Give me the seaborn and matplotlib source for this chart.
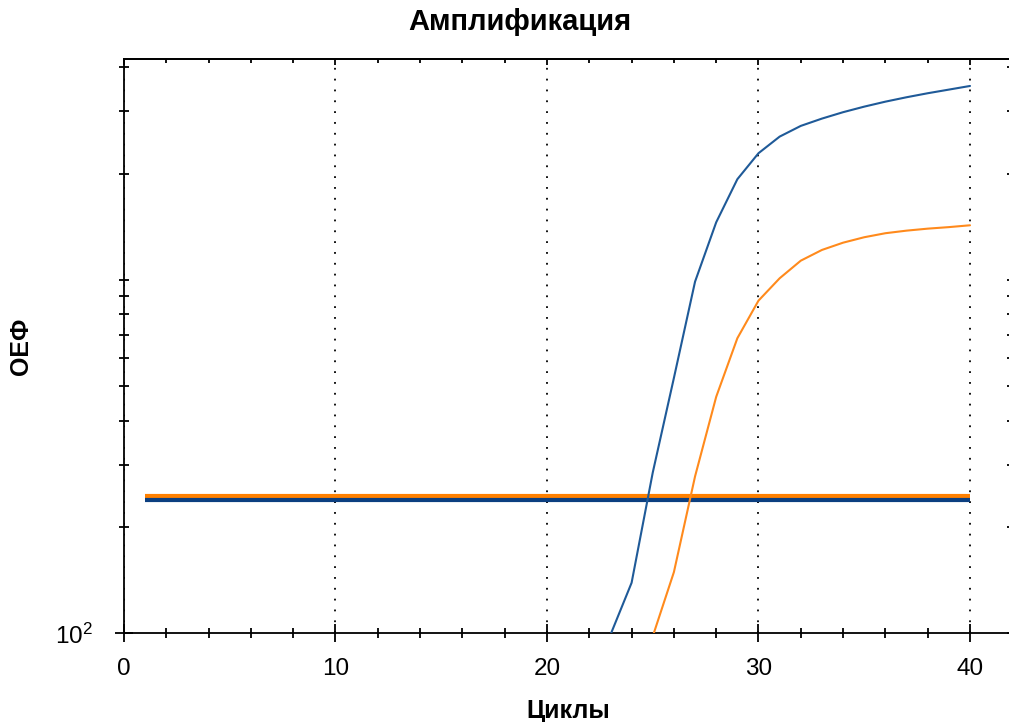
import matplotlib
matplotlib.use("Agg")
import matplotlib.pyplot as plt
import numpy as np
import pandas as pd
import seaborn as sns
from matplotlib.ticker import FixedLocator, MultipleLocator, NullFormatter, FuncFormatter

# Amplification curves (fluorescence vs cycle), two channels
cycles_blue = list(range(23, 41))
rfu_blue = [99, 139, 285, 528, 989, 1456, 1928, 2284, 2545, 2729,
            2862, 2984, 3094, 3196, 3289, 3376, 3457, 3540]

cycles_orange = list(range(25, 41))
rfu_orange = [98, 149, 278, 467, 684, 874, 1011, 1134, 1216, 1275,
              1321, 1356, 1379, 1397, 1411, 1428]

# Threshold levels and the cycle span they cover
threshold_blue = 238
threshold_orange = 244
threshold_span = (1, 40)

x_ticks_major = [0, 10, 20, 30, 40]
y_tick_major = [100]
y_tick_labels = [r"$\mathregular{10^2}$"]
y_ticks_minor = [200, 300, 400, 500, 600, 700, 800, 900, 1000, 2000, 3000, 4000]

title = "Амплификация"
x_label = "Циклы"
y_label = "ОЕФ"

curve_colors = {"blue": "#1f5a98", "orange": "#ff8a1c"}
threshold_colors = {"blue": "#0c3f80", "orange": "#ff8000"}

sns.set_theme(style="white")
plt.rcParams["font.family"] = ["Liberation Sans", "DejaVu Sans"]
plt.rcParams["mathtext.fontset"] = "custom"
plt.rcParams["mathtext.rm"] = "Liberation Sans"
plt.rcParams["text.color"] = "black"
plt.rcParams["axes.labelcolor"] = "black"

W, H = 1009, 722
fig = plt.figure(figsize=(W / 100, H / 100), dpi=100)
ax = fig.add_axes([124 / W, (H - 633.3) / H, (1012.3 - 124) / W, (633.3 - 59) / H])

df = pd.concat([
    pd.DataFrame({"cycle": cycles_blue, "rfu": rfu_blue, "channel": "blue"}),
    pd.DataFrame({"cycle": cycles_orange, "rfu": rfu_orange, "channel": "orange"}),
], ignore_index=True)

# threshold lines under the curves
ax.hlines(threshold_orange, *threshold_span, color=threshold_colors["orange"], linewidth=3.0, zorder=2)
ax.hlines(threshold_blue, *threshold_span, color=threshold_colors["blue"], linewidth=3.0, zorder=2)

sns.lineplot(data=df, x="cycle", y="rfu", hue="channel", palette=curve_colors,
             linewidth=1.5, legend=False, estimator=None, sort=False, ax=ax, zorder=3)

ax.set_yscale("log")
ax.set_xlim(0, 42)
ax.set_ylim(100, 4220)

ax.xaxis.set_major_locator(FixedLocator(x_ticks_major))
ax.xaxis.set_minor_locator(MultipleLocator(2))
ax.yaxis.set_major_locator(FixedLocator(y_tick_major))
ax.yaxis.set_major_formatter(FuncFormatter(lambda v, p: y_tick_labels[0]))
ax.yaxis.set_minor_locator(FixedLocator(y_ticks_minor))
ax.yaxis.set_minor_formatter(NullFormatter())

ax.tick_params(axis="both", which="both", bottom=True, left=True, top=False, right=False)
ax.tick_params(axis="both", which="major", direction="inout", length=13, width=1.3,
               color="black", labelsize=17.5, labelcolor="black")
ax.tick_params(axis="x", which="major", pad=11)
ax.tick_params(axis="y", which="major", pad=16)
ax.tick_params(axis="both", which="minor", direction="inout", length=6.5, width=1.3, color="black")

for s in ax.spines.values():
    s.set_color("black")
    s.set_linewidth(1.3)

# inward ticks on top and right
sec_x = ax.secondary_xaxis("top")
sec_x.xaxis.set_major_locator(FixedLocator(x_ticks_major))
sec_x.xaxis.set_minor_locator(MultipleLocator(2))
sec_x.tick_params(which="both", top=True)
sec_x.tick_params(which="major", direction="in", length=4.5, width=1.3, color="black", labeltop=False)
sec_x.tick_params(which="minor", direction="in", length=3, width=1.3, color="black")
sec_x.spines["top"].set_linewidth(1.3)
sec_x.spines["top"].set_color("black")

sec_y = ax.secondary_yaxis("right")
sec_y.yaxis.set_major_locator(FixedLocator(y_tick_major))
sec_y.yaxis.set_minor_locator(FixedLocator(y_ticks_minor))
sec_y.yaxis.set_minor_formatter(NullFormatter())
sec_y.tick_params(which="both", right=True)
sec_y.tick_params(which="both", direction="in", length=3.4, width=1.3, color="black", labelright=False)

ax.grid(True, axis="x", which="major", color="black", linestyle=(0, (1, 5)), linewidth=1.3)
ax.grid(False, axis="y")
ax.set_axisbelow(True)

ax.set_xlabel(x_label, fontsize=18, fontweight="bold", labelpad=14, color="black")
ax.set_ylabel(y_label, fontsize=18, fontweight="bold", labelpad=16, color="black")
fig.text(519.5 / W, 1 - 22 / H, title, ha="center", va="center", fontsize=21,
         fontweight="bold", color="black")

fig.savefig("out.png", dpi=100)
